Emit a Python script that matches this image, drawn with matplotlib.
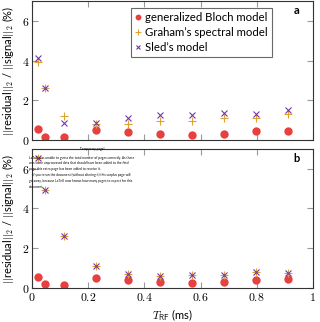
"""Residual norms of the three MT models vs. RF pulse duration."""

import matplotlib
matplotlib.use("Agg")
import matplotlib.pyplot as plt
from matplotlib.ticker import FuncFormatter

plt.rcParams["font.family"] = ["Lato", "DejaVu Sans"]
plt.rcParams["mathtext.fontset"] = "cm"

T_RF = [0.0228, 0.0456, 0.114, 0.228, 0.342, 0.456, 0.570, 0.684, 0.798, 0.912]

# panel a
bloch_a = [0.55, 0.18, 0.17, 0.50, 0.43, 0.33, 0.27, 0.32, 0.45, 0.48]
graham_a = [3.95, 2.62, 1.20, 0.80, 0.83, 0.95, 0.97, 1.13, 1.10, 1.30]
sled_a = [4.13, 2.63, 0.87, 0.87, 1.10, 1.25, 1.25, 1.38, 1.30, 1.52]

# panel b
bloch_b = [0.53, 0.17, 0.15, 0.48, 0.42, 0.32, 0.23, 0.28, 0.42, 0.45]
graham_b = [6.53, 4.90, 2.60, 1.08, 0.70, 0.60, 0.67, 0.63, 0.80, 0.73]
sled_b = [6.53, 4.90, 2.60, 1.08, 0.70, 0.60, 0.67, 0.63, 0.80, 0.73]

labels = ["generalized Bloch model", "Graham\u2019s spectral model", "Sled\u2019s model"]
red, orange, purple = "#e8403f", "#e0a030", "#7438b0"

fig = plt.figure(figsize=(3.2, 3.22), dpi=100)
ax_a = fig.add_axes([0.1, 0.564, 0.878, 0.434])
ax_b = fig.add_axes([0.1, 0.106, 0.878, 0.432])

ylab = r"$||$residual$||_2$ / $||$signal$||_2$ (%)"
fmt = FuncFormatter(lambda v, p: f"${v:g}$")

for ax, b, g, s, tag in [(ax_a, bloch_a, graham_a, sled_a, "a"),
                         (ax_b, bloch_b, graham_b, sled_b, "b")]:
    ax.plot(T_RF, b, "o", color=red, ms=6, mec="none", label=labels[0])
    ax.plot(T_RF, g, "+", color=orange, ms=6, mew=0.8, label=labels[1])
    ax.plot(T_RF, s, "x", color=purple, ms=4, mew=0.8, label=labels[2])
    ax.set_xlim(0, 1)
    ax.set_ylim(0, 7)
    ax.set_xticks([0, 0.2, 0.4, 0.6, 0.8, 1])
    ax.set_yticks([0, 2, 4, 6])
    ax.xaxis.set_major_formatter(fmt)
    ax.yaxis.set_major_formatter(fmt)
    ax.tick_params(direction="in", top=True, right=True, length=4,
                   color="#999999", labelsize=8.5, pad=2)
    for sp in ax.spines.values():
        sp.set_color("#333333")
        sp.set_linewidth(0.8)
    ax.set_ylabel(ylab, fontsize=8, labelpad=4)
    ax.text(0.94, 0.93, tag, transform=ax.transAxes, fontsize=8,
            fontweight="bold", ha="center", va="center")

ax_a.tick_params(labelbottom=False)
ax_b.set_xlabel(r"$T_{\mathsf{RF}}$ (ms)", fontsize=8, labelpad=3)

leg = ax_a.legend(loc="upper right", bbox_to_anchor=(0.874, 0.99), fontsize=8.2,
                  frameon=True, fancybox=False, edgecolor="#444444",
                  handlelength=0.6, handletextpad=0.3, borderpad=0.35,
                  labelspacing=0.35, markerscale=0.7)
leg.get_frame().set_linewidth(0.8)

# LaTeX "Temporary page!" artefact visible in the original
fig.text(0.2875, 0.537, "Temporary page!", fontsize=2.3, ha="center", va="center")
tmp = ("LaTeX was unable to guess the total number of pages correctly. As there\n"
       "was some unprocessed data that should have been added to the final\n"
       "page this extra page has been added to receive it.\n"
       "    If you rerun the document (without altering it) this surplus page will\n"
       "go away, because LaTeX now knows how many pages to expect for this\n"
       "document.")
fig.text(0.09, 0.517, tmp, fontsize=2.3, ha="left", va="top", linespacing=1.6)

fig.savefig("out.png", dpi=100)
